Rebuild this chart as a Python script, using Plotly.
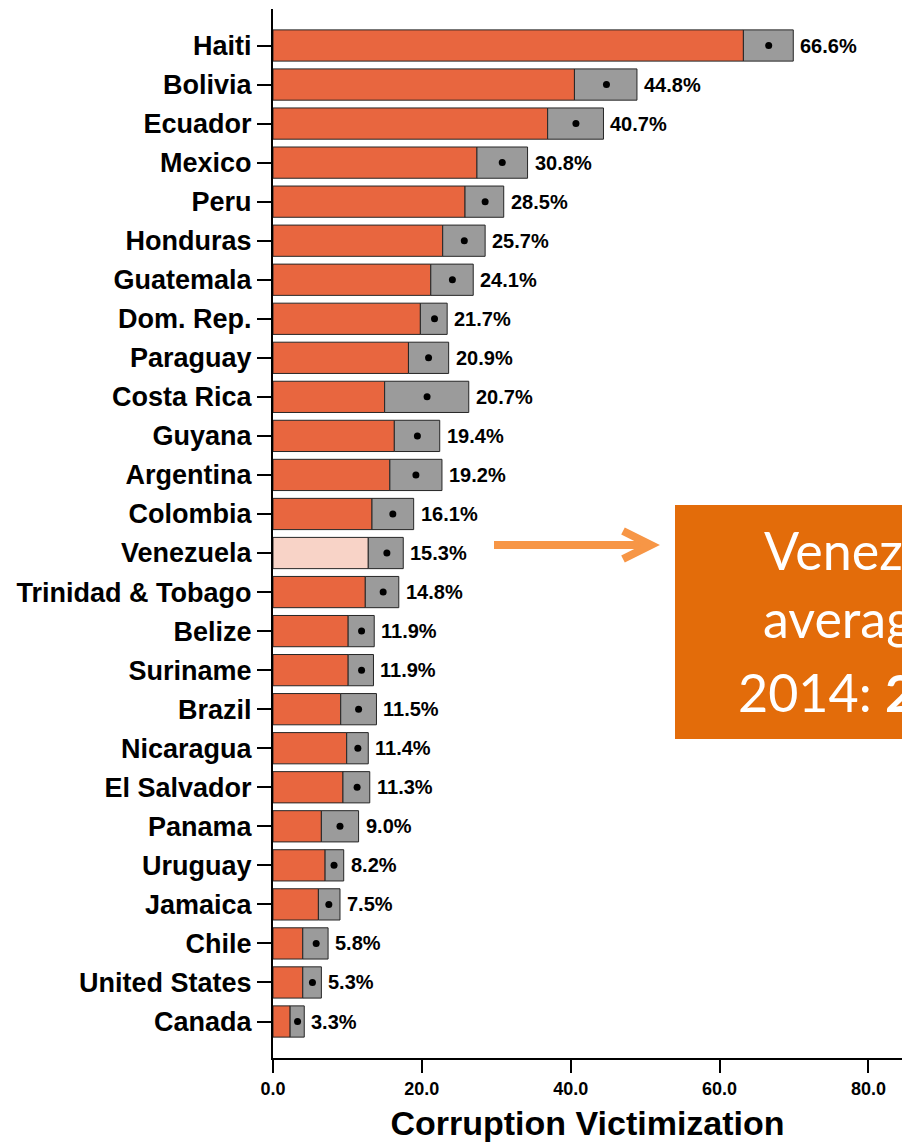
import plotly.graph_objects as go

# ---------------- data ----------------
countries = ["Haiti", "Bolivia", "Ecuador", "Mexico", "Peru", "Honduras", "Guatemala",
             "Dom. Rep.", "Paraguay", "Costa Rica", "Guyana", "Argentina", "Colombia",
             "Venezuela", "Trinidad & Tobago", "Belize", "Suriname", "Brazil", "Nicaragua",
             "El Salvador", "Panama", "Uruguay", "Jamaica", "Chile", "United States", "Canada"]
means = [66.6, 44.8, 40.7, 30.8, 28.5, 25.7, 24.1, 21.7, 20.9, 20.7, 19.4, 19.2, 16.1,
         15.3, 14.8, 11.9, 11.9, 11.5, 11.4, 11.3, 9.0, 8.2, 7.5, 5.8, 5.3, 3.3]
lower = [63.2, 40.5, 36.9, 27.4, 25.8, 22.8, 21.2, 19.8, 18.2, 15.0, 16.3, 15.7, 13.3,
         12.8, 12.4, 10.1, 10.1, 9.1, 9.9, 9.4, 6.5, 7.0, 6.1, 4.0, 4.0, 2.3]
upper = [69.9, 48.9, 44.4, 34.2, 31.0, 28.5, 26.9, 23.4, 23.6, 26.3, 22.4, 22.7, 18.9,
         17.5, 16.9, 13.6, 13.5, 13.9, 12.8, 13.0, 11.5, 9.5, 9.0, 7.4, 6.5, 4.2]
highlight = "Venezuela"
x_ticks = [0, 20, 40, 60, 80]
x_title = "Corruption Victimization"
box_lines = ["Venezuela's", "average", "2014: <b>2</b>"]

# ---------------- styling ----------------
W, H = 902, 1142
ML, MR, MT, MB = 273, 0, 9, 84
ORANGE = "#E8663F"
LIGHT = "#F8D3C7"
GRAY = "#9B9B9B"
EDGE = "#262626"
BOX = "#E36C0A"
ARROW = "#F79646"
FONT = "Liberation Sans"

n = len(countries)
ypos = list(range(n))
bar_colors = [LIGHT if c == highlight else ORANGE for c in countries]

fig = go.Figure()
fig.add_bar(y=ypos, x=lower, base=0, orientation="h", width=0.8,
            marker=dict(color=bar_colors, line=dict(color=EDGE, width=1)),
            hoverinfo="skip")
fig.add_bar(y=ypos, x=[u - l for u, l in zip(upper, lower)], base=lower,
            orientation="h", width=0.8,
            marker=dict(color=GRAY, line=dict(color=EDGE, width=1)),
            hoverinfo="skip")
fig.add_scatter(y=ypos, x=means, mode="markers",
                marker=dict(color="black", size=7), hoverinfo="skip")

annotations = []
for yi, u, m in zip(ypos, upper, means):
    annotations.append(dict(x=u, y=yi, xref="x", yref="y", text=f"{m:.1f}%",
                            showarrow=False, xanchor="left", yanchor="middle",
                            xshift=5, font=dict(family=FONT, size=20, color="black",
                                                weight="bold")))

# pixel helpers for the callout decoration
plot_w = W - ML - MR
plot_h = H - MT - MB
def px(xp):
    return (xp - ML) / plot_w
def py(yp):
    return (H - MB - yp) / plot_h

shapes = [
    dict(type="rect", xref="paper", yref="paper", x0=px(675), x1=px(1200),
         y0=py(739), y1=py(505), fillcolor=BOX, line=dict(width=0), layer="above"),
    dict(type="line", xref="paper", yref="paper", x0=px(494), x1=px(648),
         y0=py(545), y1=py(545), line=dict(color=ARROW, width=8), layer="above"),
    dict(type="path", xref="paper", yref="paper",
         path=f"M {px(623)},{py(531)} L {px(651)},{py(545)} L {px(623)},{py(559)}",
         line=dict(color=ARROW, width=8), layer="above"),
]

line_x = [762, 761, 736]
line_y = [550, 618, 692]
for t, lx, ly in zip(box_lines, line_x, line_y):
    annotations.append(dict(x=px(lx), y=py(ly), xref="paper", yref="paper", text=t,
                            showarrow=False, xanchor="left", yanchor="middle",
                            font=dict(family="Lato", size=52, color="white")))

fig.update_layout(
    width=W, height=H, margin=dict(l=ML, r=MR, t=MT, b=MB),
    paper_bgcolor="white", plot_bgcolor="white", showlegend=False,
    barmode="overlay", bargap=0.2,
    annotations=annotations, shapes=shapes,
    xaxis=dict(range=[0, plot_w / 7.443], tickvals=x_ticks, tickformat=".1f",
               ticks="outside", ticklen=13, tickwidth=2, tickcolor="black",
               showline=True, linewidth=2, linecolor="black", showgrid=False,
               zeroline=False, automargin=False,
               tickfont=dict(family=FONT, size=18, color="black", weight="bold"),
               title=dict(text=x_title, standoff=15,
                          font=dict(family=FONT, size=34, color="black", weight="bold"))),
    yaxis=dict(range=[25 + (H - MB - 1021.5) / 39.04, -(45.5 - MT) / 39.04],
               tickvals=ypos, ticktext=countries,
               ticks="outside", ticklen=14, tickwidth=2, tickcolor="black",
               showline=True, linewidth=2, linecolor="black", showgrid=False,
               zeroline=False, automargin=False,
               tickfont=dict(family=FONT, size=27, color="black", weight="bold")),
)

fig.write_html("out.html", config={"displayModeBar": False},
               post_script="document.body.style.margin='0';")
